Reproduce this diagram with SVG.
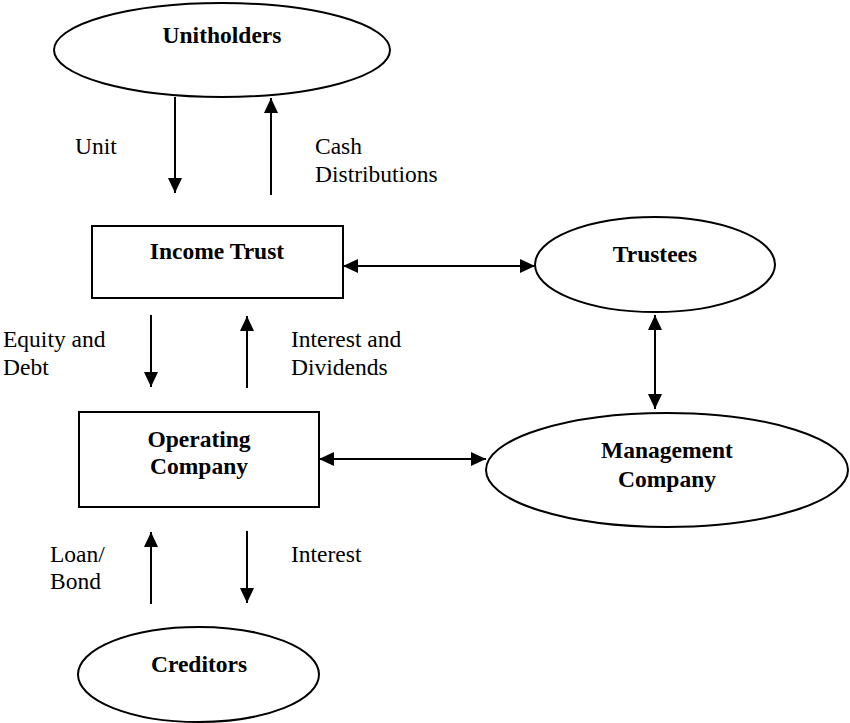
<svg xmlns="http://www.w3.org/2000/svg" width="850" height="723" viewBox="0 0 850 723">
<style>
.shape{fill:#fff;stroke:#000;stroke-width:2}
.lbl{font-family:"Liberation Serif","Times New Roman",serif;font-size:23.5px;fill:#000}
.b{font-weight:bold;text-anchor:middle}
.con line{stroke:#000;stroke-width:2}
</style>
<defs>
<marker id="ah" viewBox="0 0 15 14" refX="15" refY="7" markerWidth="15" markerHeight="14" markerUnits="userSpaceOnUse" orient="auto-start-reverse">
<path d="M0,0 L15,7 L0,14 z" fill="#000"/>
</marker>
</defs>
<rect width="850" height="723" fill="#fff"/>
<g id="unitholders">
<ellipse class="shape" cx="222" cy="50" rx="168" ry="47"/>
<text class="lbl b" x="222" y="43">Unitholders</text>
</g>
<g id="income-trust">
<rect class="shape" x="92" y="226" width="251" height="72"/>
<text class="lbl b" x="217" y="259">Income Trust</text>
</g>
<g id="trustees">
<ellipse class="shape" cx="655" cy="264.5" rx="120" ry="47.5"/>
<text class="lbl b" x="655" y="262">Trustees</text>
</g>
<g id="operating-company">
<rect class="shape" x="79" y="412" width="240" height="95"/>
<text class="lbl b" x="199" y="447">Operating</text>
<text class="lbl b" x="199" y="474">Company</text>
</g>
<g id="management-company">
<ellipse class="shape" cx="667" cy="470" rx="181" ry="57"/>
<text class="lbl b" x="667" y="458">Management</text>
<text class="lbl b" x="667" y="487">Company</text>
</g>
<g id="creditors">
<ellipse class="shape" cx="198.5" cy="674.5" rx="120.5" ry="47.5"/>
<text class="lbl b" x="199" y="672">Creditors</text>
</g>
<g id="connectors" class="con">
<line x1="175" y1="97" x2="175" y2="193" marker-end="url(#ah)"/>
<line x1="271" y1="195" x2="271" y2="98" marker-end="url(#ah)"/>
<line x1="151" y1="315" x2="151" y2="387" marker-end="url(#ah)"/>
<line x1="247" y1="388" x2="247" y2="316" marker-end="url(#ah)"/>
<line x1="343" y1="266" x2="535" y2="266" marker-start="url(#ah)" marker-end="url(#ah)"/>
<line x1="655" y1="315" x2="655" y2="409" marker-start="url(#ah)" marker-end="url(#ah)"/>
<line x1="319" y1="459" x2="486" y2="459" marker-start="url(#ah)" marker-end="url(#ah)"/>
<line x1="151" y1="604" x2="151" y2="532" marker-end="url(#ah)"/>
<line x1="247" y1="531" x2="247" y2="603" marker-end="url(#ah)"/>
</g>
<g id="labels">
<text class="lbl" x="75" y="154">Unit</text>
<text class="lbl" x="315" y="154">Cash</text>
<text class="lbl" x="315" y="182">Distributions</text>
<text class="lbl" x="3" y="347">Equity and</text>
<text class="lbl" x="3" y="375">Debt</text>
<text class="lbl" x="291" y="347">Interest and</text>
<text class="lbl" x="291" y="375">Dividends</text>
<text class="lbl" x="50" y="562">Loan/</text>
<text class="lbl" x="50" y="589">Bond</text>
<text class="lbl" x="291" y="562">Interest</text>
</g>
</svg>
